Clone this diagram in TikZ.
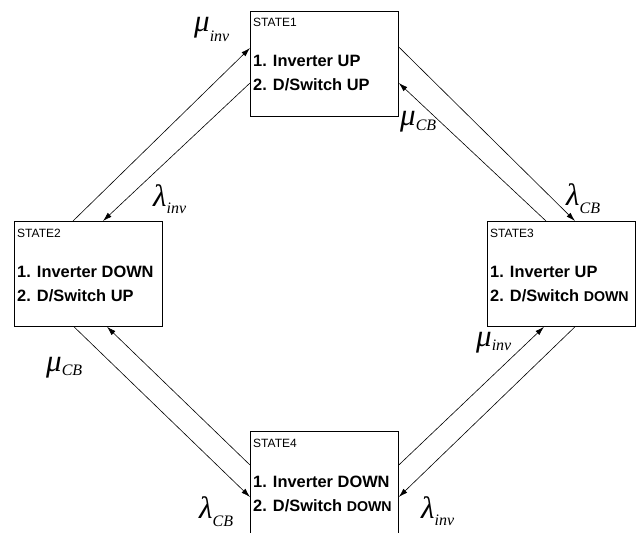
\documentclass[tikz,border=0pt]{standalone}
\usepackage{fontspec}
\setmainfont{Liberation Sans}
\newfontfamily\lblfont{Liberation Serif}
\usetikzlibrary{arrows.meta}
\newcommand{\lblsub}[2]{\raisebox{-#1}{\fontsize{16}{16}\selectfont #2}}
\newcommand{\smalldown}{{\fontsize{14.2}{14.2}\selectfont DOWN}}
\tikzset{
  statebox/.style={draw, line width=0.8pt, minimum width=148pt, minimum height=105pt, inner sep=0pt, anchor=north west},
  statename/.style={anchor=base west, inner sep=0pt, font=\fontsize{12}{12}\selectfont},
  stateline/.style={anchor=base west, inner sep=0pt, font=\fontsize{16.4}{16.4}\selectfont\bfseries},
  trans/.style={line width=0.6pt, -{Latex[length=9pt,width=5.5pt]}},
  lbl/.style={anchor=base west, inner sep=0pt, font=\lblfont\itshape\fontsize{31}{31}\selectfont},
}
\begin{document}
\begin{tikzpicture}[x=1pt,y=-1pt]
\useasboundingbox (0,0) rectangle (636,532);
\clip (0,0) rectangle (636,532);
% boxes
\node[statebox] (s1) at (250,11) {};
\node[statebox] (s2) at (14,221) {};
\node[statebox] (s3) at (487,221) {};
\node[statebox] (s4) at (250,431) {};
% texts
\node[statename] (s1n) at ([xshift=3pt,yshift=-16pt]s1.north west) {STATE1};
\node[stateline] (s1a) at ([xshift=3pt,yshift=-56pt]s1.north west) {1. Inverter UP};
\node[stateline] (s1b) at ([xshift=3pt,yshift=-80pt]s1.north west) {2. D/Switch UP};
\node[statename] (s2n) at ([xshift=3pt,yshift=-16pt]s2.north west) {STATE2};
\node[stateline] (s2a) at ([xshift=3pt,yshift=-56pt]s2.north west) {1. Inverter DOWN};
\node[stateline] (s2b) at ([xshift=3pt,yshift=-80pt]s2.north west) {2. D/Switch UP};
\node[statename] (s3n) at ([xshift=3pt,yshift=-16pt]s3.north west) {STATE3};
\node[stateline] (s3a) at ([xshift=3pt,yshift=-56pt]s3.north west) {1. Inverter UP};
\node[stateline] (s3b) at ([xshift=3pt,yshift=-80pt]s3.north west) {2. D/Switch \smalldown};
\node[statename] (s4n) at ([xshift=3pt,yshift=-16pt]s4.north west) {STATE4};
\node[stateline] (s4a) at ([xshift=3pt,yshift=-56pt]s4.north west) {1. Inverter DOWN};
\node[stateline] (s4b) at ([xshift=3pt,yshift=-80pt]s4.north west) {2. D/Switch \smalldown};
% connection points
\coordinate (s2t1) at ([xshift=59pt]s2.north west);
\coordinate (s2t2) at ([xshift=89pt]s2.north west);
\coordinate (s1l1) at ([yshift=-37pt]s1.north west);
\coordinate (s1l2) at ([yshift=-72pt]s1.north west);
\coordinate (s1r1) at ([yshift=-36pt]s1.north east);
\coordinate (s1r2) at ([yshift=-72pt]s1.north east);
\coordinate (s3t1) at ([xshift=59pt]s3.north west);
\coordinate (s3t2) at ([xshift=88pt]s3.north west);
\coordinate (s3b1) at ([xshift=57pt]s3.south west);
\coordinate (s3b2) at ([xshift=88pt]s3.south west);
\coordinate (s4r1) at ([yshift=-34pt]s4.north east);
\coordinate (s4r2) at ([yshift=-66pt]s4.north east);
\coordinate (s2b1) at ([xshift=60pt]s2.south west);
\coordinate (s2b2) at ([xshift=93pt]s2.south west);
\coordinate (s4l1) at ([yshift=-34pt]s4.north west);
\coordinate (s4l2) at ([yshift=-66pt]s4.north west);
% transitions
\draw[trans] (s2t1) -- (s1l1);
\draw[trans] (s1l2) -- (s2t2);
\draw[trans] (s1r1) -- (s3t2);
\draw[trans] (s3t1) -- (s1r2);
\draw[trans] (s4r1) -- (s3b1);
\draw[trans] (s3b2) -- (s4r2);
\draw[trans] (s2b1) -- (s4l2);
\draw[trans] (s4l1) -- (s2b2);
% labels
\node[lbl] (m1) at (194,32) {μ\lblsub{10pt}{inv}};
\node[lbl] (m2) at (400,125) {μ\lblsub{5pt}{CB}};
\node[lbl] (l1) at (153,206) {λ\lblsub{7pt}{inv}};
\node[lbl] (l2) at (566,205) {λ\lblsub{8pt}{CB}};
\node[lbl] (m3) at (46,371) {μ\lblsub{4pt}{CB}};
\node[lbl] (m4) at (476,346) {μ\lblsub{4pt}{inv}};
\node[lbl] (l3) at (199,518) {λ\lblsub{8pt}{CB}};
\node[lbl] (l4) at (421,518) {λ\lblsub{7pt}{inv}};
\end{tikzpicture}
\end{document}
